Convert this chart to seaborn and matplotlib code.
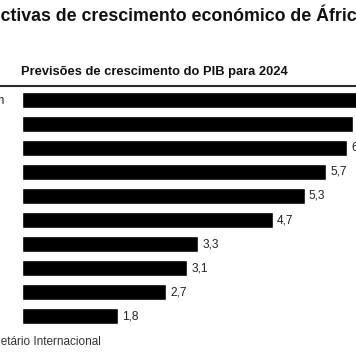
import matplotlib
matplotlib.use("Agg")
import matplotlib.pyplot as plt
import seaborn as sns
import pandas as pd
from matplotlib.lines import Line2D

sns.set_style('white')
plt.rcParams['font.family'] = ['Liberation Sans', 'DejaVu Sans']

# dados (previsões FMI para 2024, %)
paises = ['Costa do Marfim', 'Etiópia', 'Tanzânia', 'Uganda', 'Quénia',
          'RD Congo', 'Angola', 'Nigéria', 'Gana', 'África do Sul']
crescimento = [6.6, 6.2, 6.1, 5.7, 5.3, 4.7, 3.3, 3.1, 2.7, 1.8]

titulo = 'Perspectivas de crescimento económico de África'
subtitulo = 'Previsões de crescimento do PIB para 2024'
fonte = 'Fonte: Fundo Monetário Internacional'

df = pd.DataFrame({'pais': paises, 'pib': crescimento})

W, H = 356, 364
fig = plt.figure(figsize=(W / 100, H / 100), dpi=100)
# eixo: x de 22px até a borda direita, linhas com 24.1px
ax = fig.add_axes([22 / W, (H - 328.5) / H, (W - 22) / W, 241 / H])

sns.barplot(data=df, x='pib', y='pais', color='black', width=0.66,
            saturation=1, ax=ax, orient='h')

ax.set_xlim(0, (W - 22) / 53.33)
ax.set_ylim(len(paises) - 0.5, -0.5)
for p in ax.patches:
    p.set_clip_on(True)

for i, v in enumerate(crescimento):
    ax.annotate(f'{v:.1f}'.replace('.', ','), xy=(v, i), xytext=(3, 0),
                textcoords='offset points', va='center', ha='left',
                fontsize=8.6, color='#222222', annotation_clip=False)

ax.set_xlabel('')
ax.set_ylabel('')
ax.set_xticks([])
ax.tick_params(axis='y', length=0, pad=75)
for lbl in ax.get_yticklabels():
    lbl.set_ha('left')
    lbl.set_fontsize(8.5)
    lbl.set_color('#222222')
sns.despine(ax=ax, left=True, bottom=True)

fig.text(-59 / W, 1 - 15 / H, titulo, fontsize=12.8, fontweight='bold',
         va='center', ha='left', color='#111111')
fig.text(21 / W, 1 - 72 / H, subtitulo, fontsize=9.3, fontweight='bold',
         va='center', ha='left', color='#111111')
fig.lines.append(Line2D([0, 1], [1 - 85.5 / H, 1 - 85.5 / H],
                        transform=fig.transFigure, color='#2a2a2a', lw=1.5))
fig.text(-96 / W, 1 - 342 / H, fonte, fontsize=8.5, va='center', ha='left',
         color='#333333')

fig.savefig('out.png', dpi=100)
